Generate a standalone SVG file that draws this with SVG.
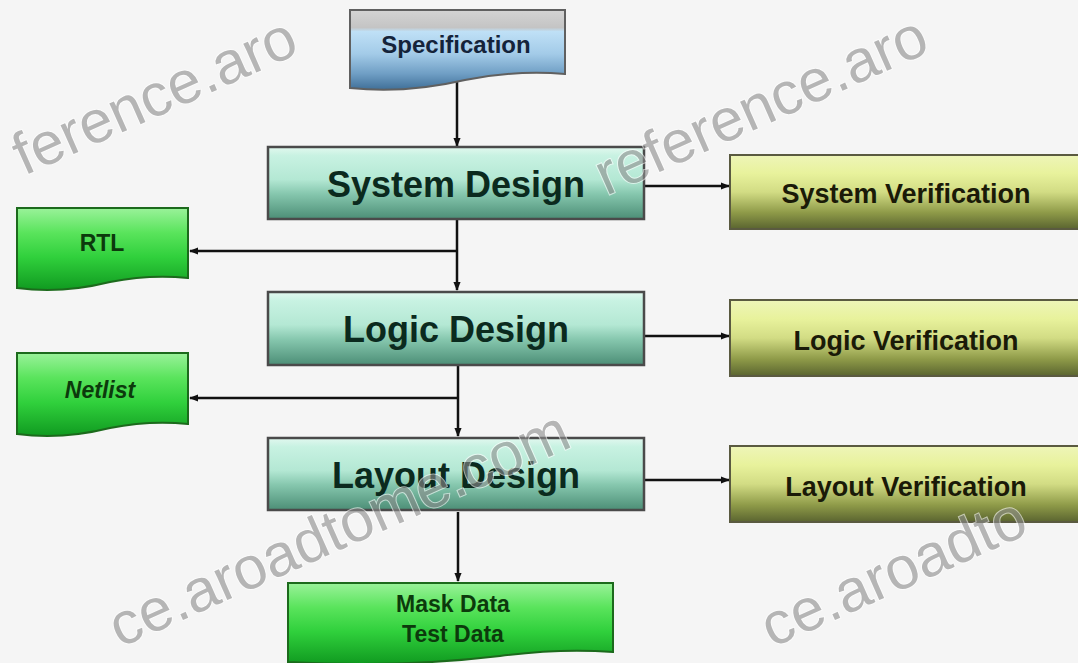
<svg xmlns="http://www.w3.org/2000/svg" width="1078" height="663" viewBox="0 0 1078 663">
<defs>
<linearGradient id="gSpec" x1="0" y1="0" x2="0" y2="1">
<stop offset="0" stop-color="#d4d4d4"/><stop offset="0.22" stop-color="#c4c4c4"/><stop offset="0.27" stop-color="#bfe0f6"/><stop offset="0.55" stop-color="#a3cbe8"/><stop offset="0.8" stop-color="#6f9ec4"/><stop offset="1" stop-color="#3f6f98"/>
</linearGradient>
<linearGradient id="gDes" x1="0" y1="0" x2="0" y2="1">
<stop offset="0" stop-color="#e2f8ef"/><stop offset="0.12" stop-color="#c8f2e2"/><stop offset="0.45" stop-color="#b4e8d4"/><stop offset="0.65" stop-color="#86c7ae"/><stop offset="1" stop-color="#4c8e76"/>
</linearGradient>
<linearGradient id="gVer" x1="0" y1="0" x2="0" y2="1">
<stop offset="0" stop-color="#eef5b8"/><stop offset="0.25" stop-color="#e8f29c"/><stop offset="0.5" stop-color="#d2dc84"/><stop offset="0.78" stop-color="#8e9a48"/><stop offset="1" stop-color="#5a6430"/>
</linearGradient>
<linearGradient id="gGrn" x1="0" y1="0" x2="0" y2="1">
<stop offset="0" stop-color="#9af29a"/><stop offset="0.3" stop-color="#5ae45c"/><stop offset="0.6" stop-color="#30d03c"/><stop offset="1" stop-color="#109a20"/>
</linearGradient>
<marker id="ah" viewBox="0 0 10 10" refX="9" refY="5" markerWidth="9" markerHeight="9" markerUnits="userSpaceOnUse" orient="auto">
<path d="M0,1 L10,5 L0,9 Z" fill="#111"/>
</marker>
<style>
.des{fill:url(#gDes);stroke:#4a4a4a;stroke-width:2.5}
.ver{fill:url(#gVer);stroke:#5a5a40;stroke-width:2}
.grn{fill:url(#gGrn);stroke:#1c6a1c;stroke-width:2}
.t{font-family:"Liberation Sans",Arial,sans-serif;font-weight:bold;text-anchor:middle}
.td{font-size:36px;fill:#0b2a1e}
.tv{font-size:27px;fill:#1a1a08}
.tg{font-size:23px;fill:#0c3a0c}
.conn{stroke:#111;stroke-width:2.5;fill:none}
.wm{font-family:"Liberation Sans",Arial,sans-serif;font-size:60px;fill:#8c8c8c;stroke:#ffffff;stroke-width:2;paint-order:stroke;opacity:0.6}
</style>
</defs>
<rect width="1078" height="663" fill="#f5f5f5"/>

<g id="connectors">
<line class="conn" x1="457" y1="78" x2="457" y2="146" marker-end="url(#ah)"/>
<line class="conn" x1="457" y1="220" x2="457" y2="290" marker-end="url(#ah)"/>
<line class="conn" x1="457" y1="251" x2="190" y2="251" marker-end="url(#ah)"/>
<line class="conn" x1="458" y1="366" x2="458" y2="436" marker-end="url(#ah)"/>
<line class="conn" x1="458" y1="398" x2="190" y2="398" marker-end="url(#ah)"/>
<line class="conn" x1="458" y1="512" x2="458" y2="581" marker-end="url(#ah)"/>
<line class="conn" x1="645" y1="186" x2="729" y2="186" marker-end="url(#ah)"/>
<line class="conn" x1="645" y1="336" x2="729" y2="336" marker-end="url(#ah)"/>
<line class="conn" x1="645" y1="480" x2="729" y2="480" marker-end="url(#ah)"/>
</g>

<g id="specification">
<path d="M350,10 H565 V74 Q515,70 465,80 Q405,94 350,88 Z" fill="url(#gSpec)" stroke="#606060" stroke-width="2"/>
<text class="t" x="456" y="53" font-size="24" fill="#14233a">Specification</text>
</g>

<g id="system-design">
<rect class="des" x="268" y="147" width="376" height="72"/>
<text class="t td" x="456" y="197">System Design</text>
</g>
<g id="logic-design">
<rect class="des" x="268" y="292" width="376" height="73"/>
<text class="t td" x="456" y="342">Logic Design</text>
</g>
<g id="layout-design">
<rect class="des" x="268" y="438" width="376" height="72"/>
<text class="t td" x="456" y="488">Layout Design</text>
</g>

<g id="system-verification">
<rect class="ver" x="730" y="155" width="352" height="74"/>
<text class="t tv" x="906" y="203">System Verification</text>
</g>
<g id="logic-verification">
<rect class="ver" x="730" y="300" width="352" height="76"/>
<text class="t tv" x="906" y="350">Logic Verification</text>
</g>
<g id="layout-verification">
<rect class="ver" x="730" y="446" width="352" height="76"/>
<text class="t tv" x="906" y="496">Layout Verification</text>
</g>

<g id="rtl">
<path class="grn" d="M17,208 H188 V278 Q150,274 110,282 Q62,294 17,288 Z"/>
<text class="t tg" x="102" y="251">RTL</text>
</g>
<g id="netlist">
<path class="grn" d="M17,353 H188 V424 Q150,420 110,428 Q62,440 17,434 Z"/>
<text class="t tg" x="100" y="398" font-style="italic">Netlist</text>
</g>
<g id="mask-test-data">
<path class="grn" d="M288,583 H613 V652 Q560,648 500,656 Q400,668 288,662 Z"/>
<text class="t tg" x="453" y="612">Mask Data</text>
<text class="t tg" x="453" y="642">Test Data</text>
</g>

<g id="watermarks">
<text class="wm" transform="translate(24,176) rotate(-24)">ference.aro</text>
<text class="wm" transform="translate(606,196) rotate(-24)">reference.aro</text>
<text class="wm" transform="translate(120,648) rotate(-24)">ce.aroadtome.com</text>
<text class="wm" transform="translate(772,648) rotate(-24)">ce.aroadto</text>
</g>
</svg>
